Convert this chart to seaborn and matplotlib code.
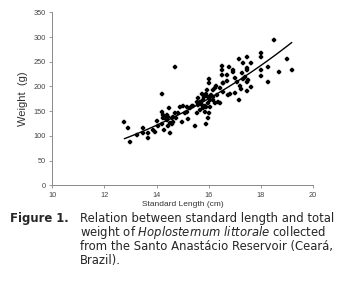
import matplotlib
matplotlib.use('Agg')
import matplotlib.pyplot as plt
import numpy as np
import pandas as pd
import seaborn as sns

# standard length (cm) and weight (g)
length_cm = [12.76, 12.89, 12.99, 13.23, 13.49, 13.49, 13.68, 13.68, 13.87, 13.93,
             14.00, 14.06, 14.19, 14.19, 14.19, 14.25, 14.28, 14.38, 14.44, 14.48,
             14.51, 14.57, 14.64, 14.70, 14.76, 14.83, 14.89, 14.96, 15.00, 15.08,
             15.15, 15.21, 15.34, 15.47, 15.53, 15.59, 15.66, 15.72, 15.79, 15.85,
             15.91, 15.94, 15.98, 16.02, 16.02, 16.02, 16.04, 16.17, 16.23, 16.27,
             16.36, 16.42, 16.49, 16.49, 16.53, 16.55, 16.68, 16.74, 16.78, 16.83,
             16.93, 17.00, 17.00, 17.09, 17.17, 17.17, 17.22, 17.28, 17.32, 17.38,
             17.45, 17.47, 17.47, 17.47, 17.47, 17.60, 17.99, 17.99, 17.99, 17.99,
             18.28, 18.28, 18.49, 18.70, 18.98, 19.18,
             15.72, 15.79, 15.85, 15.91, 15.98, 16.04, 15.66, 15.81, 15.89, 15.98,
             16.07, 16.17, 14.25, 14.32, 14.38, 14.44, 14.51, 14.64, 14.70, 14.57,
             15.15, 15.27, 15.40, 15.53, 15.59, 16.23, 16.30, 16.42, 16.55, 16.17,
             16.49, 16.68, 16.93, 17.19, 17.32, 17.51, 17.60]
weight_g = [128, 115, 87, 102, 115, 105, 95, 105, 112, 108,
            131, 119, 125, 185, 149, 136, 111, 142, 119, 157,
            105, 136, 129, 239, 136, 146, 158, 129, 160, 147,
            149, 134, 160, 119, 146, 162, 152, 185, 173, 149,
            125, 193, 136, 215, 206, 146, 173, 179, 196, 200,
            169, 166, 241, 223, 207, 189, 223, 183, 240, 184,
            233, 218, 186, 210, 255, 173, 194, 227, 247, 220,
            237, 260, 233, 210, 191, 198, 267, 259, 233, 222,
            210, 240, 293, 229, 256, 233,
            162, 156, 160, 159, 166, 158, 169, 179, 185, 179,
            183, 173, 142, 136, 132, 139, 127, 139, 146, 124,
            159, 156, 160, 169, 176, 166, 183, 196, 206, 193,
            234, 212, 230, 200, 215, 213, 247]

# power trend line W = a * L^b
fit_a = 0.0857
fit_b = 2.75

df = pd.DataFrame({'length': length_cm, 'weight': weight_g})

sns.set_style('white')
plt.rcParams['font.family'] = ['Liberation Sans', 'DejaVu Sans']
plt.rcParams['mathtext.fontset'] = 'custom'
plt.rcParams['mathtext.it'] = 'DejaVu Sans:italic'
plt.rcParams['mathtext.rm'] = 'DejaVu Sans'

fig = plt.figure(figsize=(3.43, 2.81), dpi=100)
ax = fig.add_axes([0.1525, 0.3406, 0.7605, 0.6156])

sns.scatterplot(data=df, x='length', y='weight', ax=ax, marker='P', s=11,
                color='black', edgecolor='black', linewidth=0.3)

xs = np.linspace(min(length_cm), max(length_cm), 100)
sns.lineplot(x=xs, y=fit_a * xs ** fit_b, ax=ax, color='black', linewidth=1.0)

ax.set_xlim(10, 20)
ax.set_ylim(0, 350)
ax.set_xticks(range(10, 21, 2))
ax.set_yticks(range(0, 351, 50))
ax.tick_params(labelsize=5.3, labelcolor='#444444', length=2.5, width=0.6,
               color='#888888', direction='out', pad=2)
ax.tick_params(axis='both', which='both', bottom=True, left=True)
for side in ['top', 'right']:
    ax.spines[side].set_visible(False)
for side in ['left', 'bottom']:
    ax.spines[side].set_color('#888888')
    ax.spines[side].set_linewidth(0.7)

ax.set_xlabel('Standard Length (cm)', fontsize=6, color='#333333', labelpad=2)
ax.set_ylabel('Weight  (g)', fontsize=8, color='#333333', labelpad=4)

# caption
cap_font = ['DejaVu Sans']
cap_size = 8.4
fig.text(10 / 343, 1 - 222 / 281, 'Figure 1.', fontsize=cap_size, fontweight='bold',
         family=cap_font, va='baseline')
lines_y = [222, 236, 250, 264]
fig.text(80 / 343, 1 - lines_y[0] / 281, 'Relation between standard length and total',
         fontsize=cap_size, family=cap_font, va='baseline')
fig.text(80 / 343, 1 - lines_y[1] / 281,
         'weight of $\\mathit{Hoplosternum\\ littorale}$ collected',
         fontsize=cap_size, family=cap_font, va='baseline')
fig.text(80 / 343, 1 - lines_y[2] / 281, 'from the Santo Anastácio Reservoir (Ceará,',
         fontsize=cap_size, family=cap_font, va='baseline')
fig.text(80 / 343, 1 - lines_y[3] / 281, 'Brazil).',
         fontsize=cap_size, family=cap_font, va='baseline')

fig.savefig('out.png', dpi=100)
